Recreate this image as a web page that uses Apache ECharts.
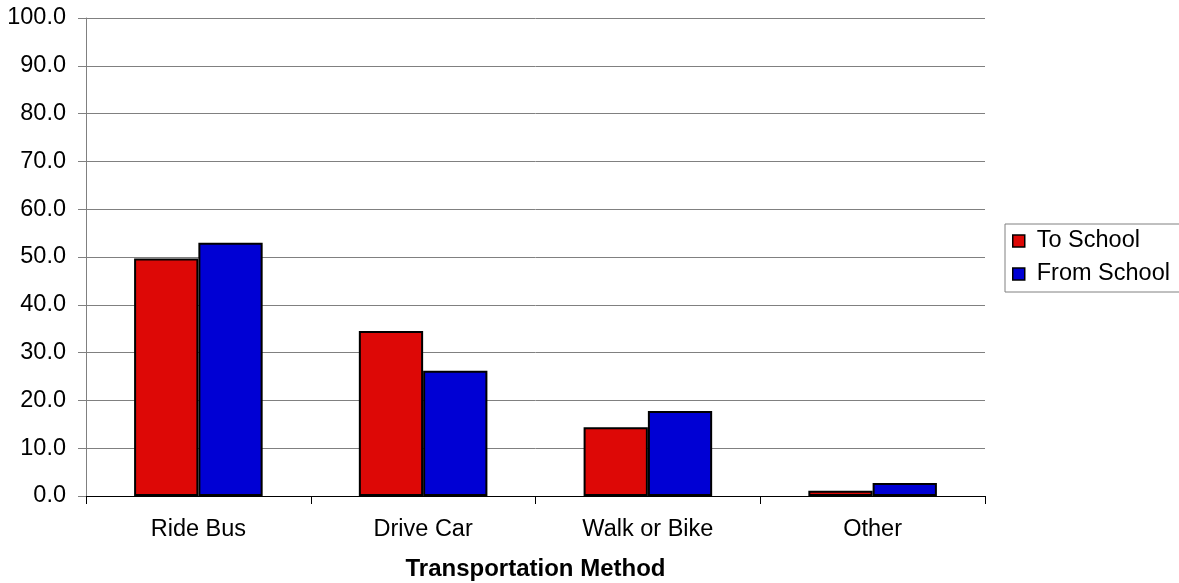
<!DOCTYPE html>
<html><head><meta charset="utf-8">
<script src="https://cdn.jsdelivr.net/npm/echarts@6/dist/echarts.min.js"></script>
<style>html,body{margin:0;padding:0;background:#fff}#c{width:1179px;height:583px}</style>
</head><body><div id="c"></div>
<script>
const categories = ['Ride Bus', 'Drive Car', 'Walk or Bike', 'Other'];
const toSchool = [49.7, 34.5, 14.4, 1.1];
const fromSchool = [53.0, 26.2, 17.8, 2.7];
const seriesNames = ['To School', 'From School'];
const xAxisTitle = 'Transportation Method';

const chart = echarts.init(document.getElementById('c'), null, {renderer: 'canvas'});
const font = '"Liberation Sans", Arial, sans-serif';
chart.setOption({
  animation: false,
  textStyle: {fontFamily: font},
  grid: {left: 86, right: 194, top: 18, bottom: 87, containLabel: false, outerBoundsMode: 'none'},
  legend: {
    orient: 'vertical', left: 1005, top: 224,
    padding: [5, 40, 6, 7], itemGap: 9,
    borderColor: '#808080', borderWidth: 1,
    itemWidth: 12, itemHeight: 12, icon: 'rect',
    itemStyle: {borderColor: '#000', borderWidth: 1.5},
    textStyle: {fontFamily: font, fontSize: 23.5, color: '#000', padding: [0, 0, 0, 7]},
    data: seriesNames
  },
  xAxis: {
    type: 'category', data: categories,
    name: xAxisTitle, nameLocation: 'middle', nameGap: 61,
    nameTextStyle: {fontFamily: font, fontSize: 24, fontWeight: 'bold', color: '#000'},
    axisLine: {lineStyle: {color: '#000', width: 1}},
    axisTick: {show: true, alignWithLabel: false, length: 8, lineStyle: {color: '#000'}},
    axisLabel: {fontFamily: font, fontSize: 23.5, color: '#000', margin: 22}
  },
  yAxis: {
    type: 'value', min: 0, max: 100, interval: 10,
    axisLine: {show: true, lineStyle: {color: '#808080', width: 1}},
    axisTick: {show: true, length: 8, lineStyle: {color: '#808080'}},
    axisLabel: {fontFamily: font, fontSize: 23.5, color: '#000', margin: 20, formatter: v => v.toFixed(1)},
    splitLine: {lineStyle: {color: '#808080', width: 1}}
  },
  series: [
    {name: seriesNames[0], type: 'bar', data: toSchool, barWidth: '28.6%', barGap: '0%',
     itemStyle: {color: '#dd0806', borderColor: '#000', borderWidth: 2}},
    {name: seriesNames[1], type: 'bar', data: fromSchool, barWidth: '28.6%', barGap: '0%',
     itemStyle: {color: '#0000d4', borderColor: '#000', borderWidth: 2}}
  ]
});
</script></body></html>
